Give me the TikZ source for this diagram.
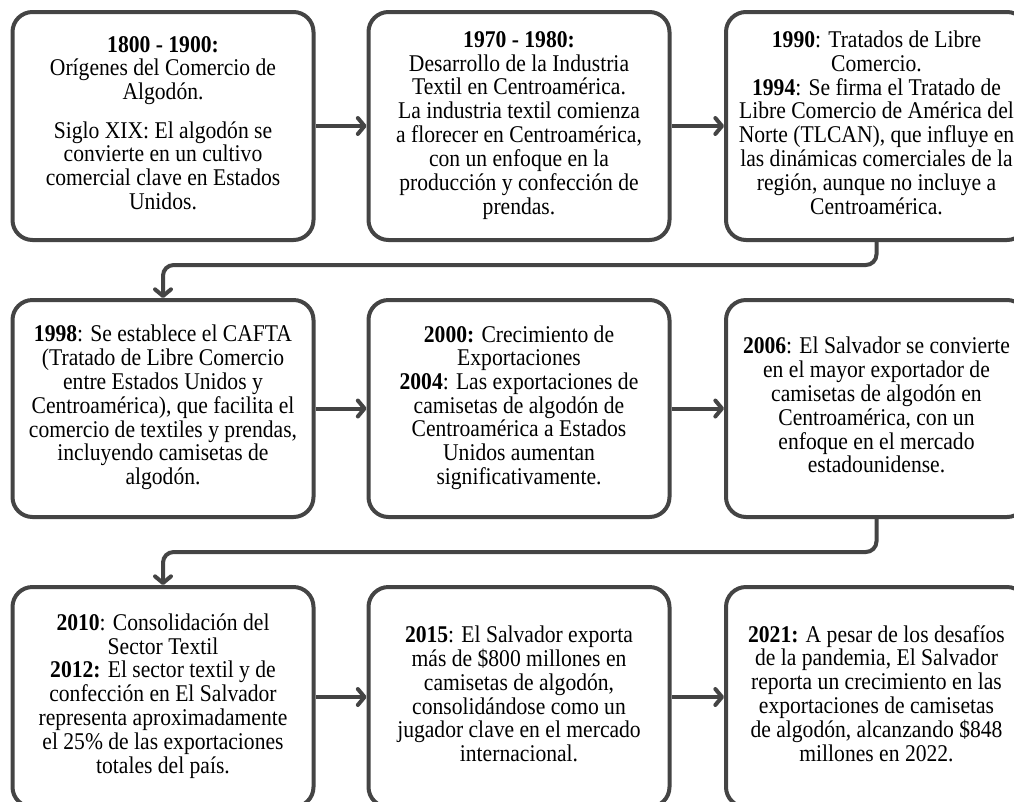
\documentclass[tikz,border=0pt]{standalone}
\usepackage{fontspec}
\setmainfont{Liberation Serif}
\usepackage{graphicx}
\usetikzlibrary{arrows.meta}
\definecolor{linegray}{RGB}{68,68,68}
\newcommand{\boxtext}[1]{\scalebox{0.9}[1]{\fontsize{18pt}{17.7pt}\selectfont\begin{tabular}{@{}c@{}}#1\end{tabular}}}
\begin{document}
\begin{tikzpicture}[x=0.75pt,y=-0.75pt,
  boxst/.style={draw=linegray, line width=3pt, rounded corners=15pt, fill=white, minimum width=225.75pt, inner sep=0pt},
  rowone/.style={boxst, minimum height=171pt},
  rowtwo/.style={boxst, minimum height=162.75pt},
  rowthree/.style={boxst, minimum height=165pt},
  txt/.style={inner sep=0pt, text=black},
  conn/.style={draw=linegray, line width=3pt, rounded corners=8pt,
    -{Straight Barb[length=5pt,width=12pt,line cap=round,line join=round]}}]
\useasboundingbox (0,0) rectangle (1014,801);
\fill[white] (0,0) rectangle (1014,801);
\clip (0,0) rectangle (1014,801);

% boxes
\node[rowone] (b1) at (163,126) {};
\node[rowone] (b2) at (519,126) {};
\node[rowone] (b3) at (876.5,126) {};
\node[rowtwo] (b4) at (163,408.5) {};
\node[rowtwo] (b5) at (519,408.5) {};
\node[rowtwo] (b6) at (876.5,408.5) {};
\node[rowthree] (b7) at (163,697) {};
\node[rowthree] (b8) at (519,697) {};
\node[rowthree] (b9) at (876.5,697) {};

% texts
\node[txt] (t1) at (b1.center) {\boxtext{\textbf{1800 - 1900:}\\ Orígenes del Comercio de\\ Algodón.\\[11pt] Siglo XIX: El algodón se\\ convierte en un cultivo\\ comercial clave en Estados\\ Unidos.}};
\node[txt] (t2) at (b2.center) {\boxtext{\textbf{1970 - 1980:}\\ Desarrollo de la Industria\\ Textil en Centroamérica.\\ La industria textil comienza\\ a florecer en Centroamérica,\\ con un enfoque en la\\ producción y confección de\\ prendas.}};
\node[txt] (t3) at (b3.center) {\boxtext{\textbf{1990}: Tratados de Libre\\ Comercio.\\ \textbf{1994}: Se firma el Tratado de\\ Libre Comercio de América del\\ Norte (TLCAN), que influye en\\ las dinámicas comerciales de la\\ región, aunque no incluye a\\ Centroamérica.}};
\node[txt] (t4) at (b4.center) {\boxtext{\textbf{1998}: Se establece el CAFTA\\ (Tratado de Libre Comercio\\ entre Estados Unidos y\\ Centroamérica), que facilita el\\ comercio de textiles y prendas,\\ incluyendo camisetas de\\ algodón.}};
\node[txt] (t5) at (b5.center) {\boxtext{\textbf{2000:} Crecimiento de\\ Exportaciones\\ \textbf{2004}: Las exportaciones de\\ camisetas de algodón de\\ Centroamérica a Estados\\ Unidos aumentan\\ significativamente.}};
\node[txt] (t6) at (b6.center) {\boxtext{\textbf{2006}: El Salvador se convierte\\ en el mayor exportador de\\ camisetas de algodón en\\ Centroamérica, con un\\ enfoque en el mercado\\ estadounidense.}};
\node[txt] (t7) at (b7.center) {\boxtext{\textbf{2010}: Consolidación del\\ Sector Textil\\ \textbf{2012:} El sector textil y de\\ confección en El Salvador\\ representa aproximadamente\\ el 25\% de las exportaciones\\ totales del país.}};
\node[txt] (t8) at (b8.center) {\boxtext{\textbf{2015}: El Salvador exporta\\ más de \$800 millones en\\ camisetas de algodón,\\ consolidándose como un\\ jugador clave en el mercado\\ internacional.}};
\node[txt] (t9) at (b9.center) {\boxtext{\textbf{2021:} A pesar de los desafíos\\ de la pandemia, El Salvador\\ reporta un crecimiento en las\\ exportaciones de camisetas\\ de algodón, alcanzando \$848\\ millones en 2022.}};

% connectors
\draw[conn] (b1.east) -- (b2.west);
\draw[conn] (b2.east) -- (b3.west);
\draw[conn] (b3.south) -- ++(0,23) -| (b4.north);
\draw[conn] (b4.east) -- (b5.west);
\draw[conn] (b5.east) -- (b6.west);
\draw[conn] (b6.south) -- ++(0,33) -| (b7.north);
\draw[conn] (b7.east) -- (b8.west);
\draw[conn] (b8.east) -- (b9.west);
\end{tikzpicture}
\end{document}
